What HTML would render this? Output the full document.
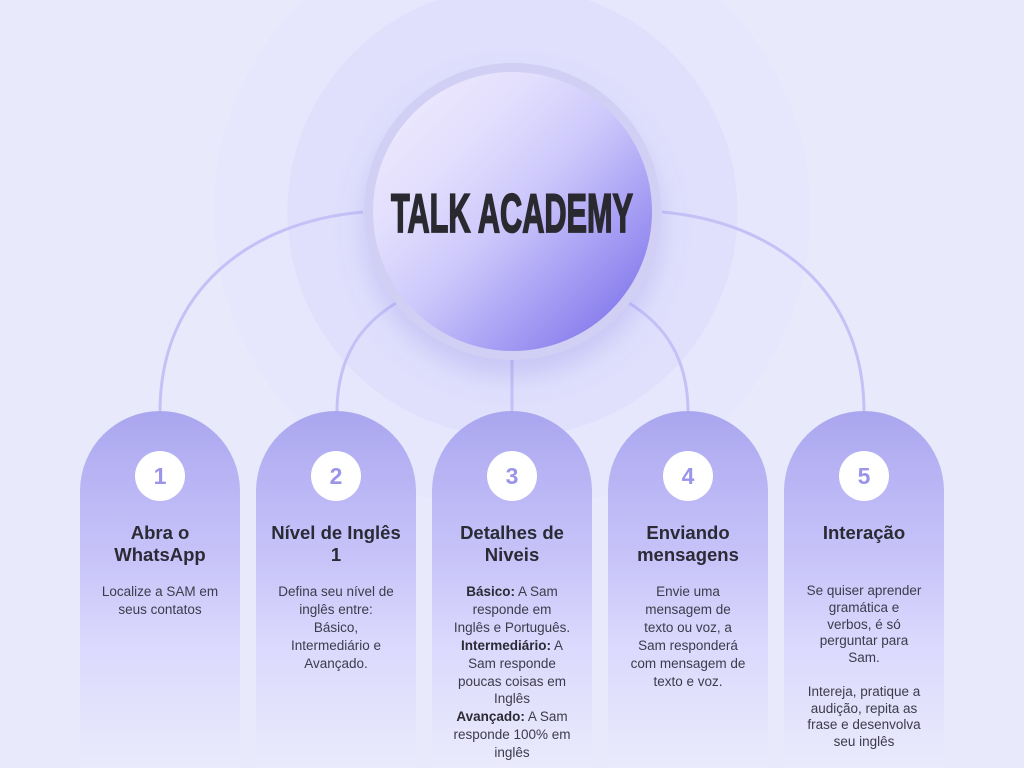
<!DOCTYPE html>
<html>
<head>
<meta charset="utf-8">
<style>
  html, body { margin:0; padding:0; }
  body { width:1024px; height:768px; overflow:hidden; background:#e9e9fc; position:relative; font-family:"Liberation Sans", Arial, sans-serif; }
  svg.bg { position:absolute; left:0; top:0; }
  .card { position:absolute; top:411px; width:160px; height:357px; border-radius:80px 80px 0 0;
    background:linear-gradient(to bottom, #aaa6ef 0px, #bbb7f5 80px, #c8c4f9 150px, #dad8fd 229px, #e2e1fc 290px, #eaeafc 357px); }
  .num { position:absolute; left:55px; top:40px; width:50px; height:50px; border-radius:50%; background:#fff;
    color:#9a94ea; font-weight:bold; font-size:23px; line-height:50px; text-align:center; }
  .title { position:absolute; left:0; width:160px; top:110.7px; text-align:center; font-weight:bold; font-size:18.5px; line-height:22.3px; color:#2b2a35; white-space:nowrap; }
  .desc { position:absolute; left:0; width:160px; top:172px; text-align:center; font-size:13.5px; line-height:18px; color:#3d3b4a; white-space:nowrap; }
  .desc b { color:#2b2a35; }
</style>
</head>
<body>
<svg class="bg" width="1024" height="768" viewBox="0 0 1024 768">
  <defs>
    <linearGradient id="cg" x1="0" y1="0" x2="1" y2="1">
      <stop offset="0" stop-color="#f1eefe"/>
      <stop offset="0.3" stop-color="#e2defd"/>
      <stop offset="0.5" stop-color="#cdc8fb"/>
      <stop offset="0.62" stop-color="#b7b0f7"/>
      <stop offset="0.8" stop-color="#968df0"/>
      <stop offset="1" stop-color="#6b62e6"/>
    </linearGradient>
    <filter id="sh" x="-30%" y="-30%" width="160%" height="170%">
      <feDropShadow dx="0" dy="16" stdDeviation="14" flood-color="#7d72dc" flood-opacity="0.25"/>
    </filter>
  </defs>
  <circle cx="512" cy="212" r="298" fill="#e6e6fc"/>
  <circle cx="512.5" cy="212" r="225" fill="#e0e0fd"/>
  <g fill="none" stroke="#c5c1f7" stroke-width="3">
    <path d="M363,212 C250,222 160,290 160,412 L160,420"/>
    <path d="M662,212 C775,222 864,290 864,412 L864,420"/>
    <path d="M396,303 C362,324 337,356 337,412 L337,420"/>
    <path d="M629,303 C663,324 688,356 688,412 L688,420"/>
    <path d="M512,355 L512,420"/>
  </g>
  <g filter="url(#sh)">
    <circle cx="512.5" cy="211.5" r="148.5" fill="#d1cff4"/>
  </g>
  <circle cx="512.5" cy="211.5" r="139.5" fill="url(#cg)"/>
  <text x="391" y="232" textLength="242" lengthAdjust="spacingAndGlyphs" font-family="Liberation Sans, Arial, sans-serif" font-weight="bold" font-size="54.5" fill="#2a2930" stroke="#2a2930" stroke-width="1.8">TALK ACADEMY</text>
</svg>

<div class="card" style="left:80px;">
  <div class="num">1</div>
  <div class="title">Abra o<br>WhatsApp</div>
  <div class="desc">Localize a SAM em<br>seus contatos</div>
</div>

<div class="card" style="left:256px;">
  <div class="num">2</div>
  <div class="title">Nível de Inglês<br>1</div>
  <div class="desc">Defina seu nível de<br>inglês entre:<br>Básico,<br>Intermediário e<br>Avançado.</div>
</div>

<div class="card" style="left:432px;">
  <div class="num">3</div>
  <div class="title">Detalhes de<br>Niveis</div>
  <div class="desc" style="line-height:17.9px;"><b>Básico:</b> A Sam<br>responde em<br>Inglês e Português.<br><b>Intermediário:</b> A<br>Sam responde<br>poucas coisas em<br>Inglês<br><b>Avançado:</b> A Sam<br>responde 100% em<br>inglês</div>
</div>

<div class="card" style="left:608px;">
  <div class="num">4</div>
  <div class="title">Enviando<br>mensagens</div>
  <div class="desc">Envie uma<br>mensagem de<br>texto ou voz, a<br>Sam responderá<br>com mensagem de<br>texto e voz.</div>
</div>

<div class="card" style="left:784px;">
  <div class="num">5</div>
  <div class="title">Interação</div>
  <div class="desc" style="line-height:16.8px;">Se quiser aprender<br>gramática e<br>verbos, é só<br>perguntar para<br>Sam.<br><br>Intereja, pratique a<br>audição, repita as<br>frase e desenvolva<br>seu inglês</div>
</div>
</body>
</html>
